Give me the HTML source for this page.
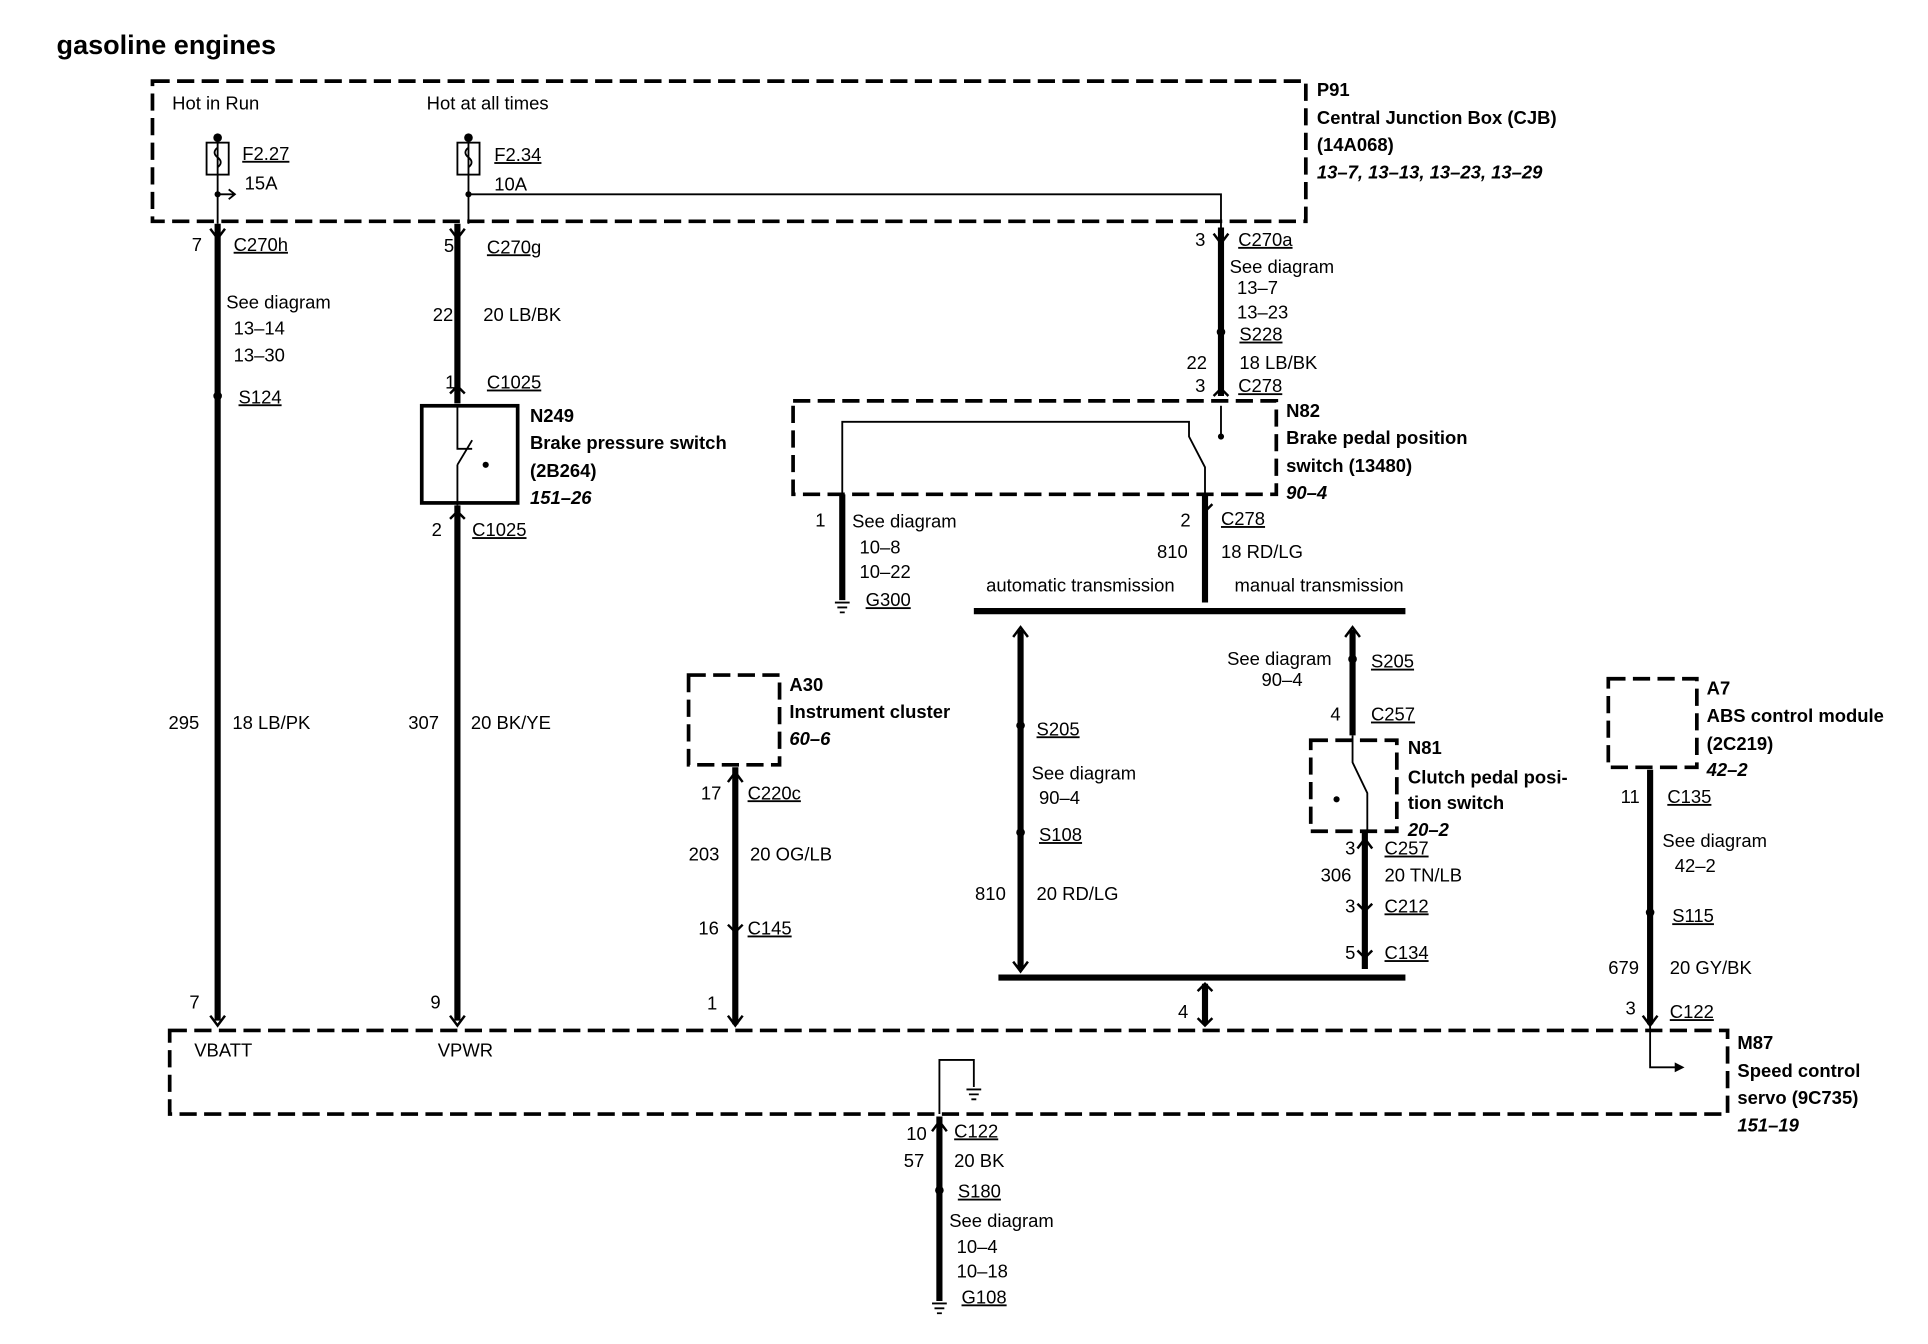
<!DOCTYPE html>
<html><head><meta charset="utf-8"><style>
html,body{margin:0;padding:0;background:#fff;}
svg{display:block;}
text{font-family:"Liberation Sans",sans-serif;font-size:15px;fill:#000;}
.b{font-weight:bold;}
.i{font-weight:bold;font-style:italic;}
.u{text-decoration:underline;}
</style></head><body>
<svg width="1928" height="1344" viewBox="0 0 1568 1093" preserveAspectRatio="none" xmlns="http://www.w3.org/2000/svg">
<g fill="none" stroke="#000">
<!-- dashed boxes -->
<g stroke-width="3" stroke-dasharray="14,6">
<rect x="124" y="66" width="938" height="114"/>
<rect x="645" y="326" width="393" height="76"/>
<rect x="560" y="549" width="74" height="73"/>
<rect x="1308" y="552" width="72" height="72"/>
<rect x="1066" y="602" width="70" height="74"/>
<rect x="138" y="838" width="1267" height="68"/>
</g>
<rect x="343" y="330" width="78" height="79" stroke-width="3"/>
<!-- thick wires -->
<g stroke-width="5">
<line x1="177" y1="182" x2="177" y2="830"/>
<line x1="372" y1="182" x2="372" y2="328"/>
<line x1="372" y1="411" x2="372" y2="830"/>
<line x1="993" y1="185" x2="993" y2="322"/>
<line x1="685" y1="402" x2="685" y2="488"/>
<line x1="980" y1="402" x2="980" y2="490"/>
<line x1="792" y1="497" x2="1143" y2="497"/>
<line x1="830" y1="512" x2="830" y2="788"/>
<line x1="1100" y1="512" x2="1100" y2="598"/>
<line x1="1110" y1="676" x2="1110" y2="788"/>
<line x1="812" y1="795" x2="1143" y2="795"/>
<line x1="980" y1="800" x2="980" y2="833"/>
<line x1="598" y1="624" x2="598" y2="833"/>
<line x1="1342" y1="626" x2="1342" y2="833"/>
<line x1="764" y1="908" x2="764" y2="1058"/>
</g>
<!-- thin wires -->
<g stroke-width="1.5">
<line x1="177" y1="112" x2="177" y2="182"/>
<line x1="381" y1="112" x2="381" y2="182"/>
<rect x="168" y="116" width="18" height="26"/>
<rect x="372" y="116" width="18" height="26"/>
<path d="M177 120 q-5 4 0 8 q5 4 0 8 M381 120 q-5 4 0 8 q5 4 0 8"/>
<path d="M177 158 H190 M186 154 L191 158 L186 162"/>
<path d="M381 158 H993 V185"/>
<path d="M993 330 V355"/>
<path d="M685 402 V343 H967 V355 L980 380 V402"/>
<path d="M372 330 V365 L384 365 M372 378 L384 358 M372 378 V411"/>
<path d="M1100 598 V620 L1112 645 V676"/>
<path d="M1342 833 V868 H1368"/>
<path d="M764 906 V862 H792 V884"/>
</g>
<g fill="#000" stroke="none">
<circle cx="177" cy="112" r="3.5"/><circle cx="381" cy="112" r="3.5"/>
<circle cx="177" cy="158" r="2.5"/><circle cx="381" cy="158" r="2.5"/>
<circle cx="177" cy="322" r="3.5"/><circle cx="993" cy="270" r="3.5"/>
<circle cx="395" cy="378" r="2.5"/><circle cx="993" cy="355" r="2.5"/>
<circle cx="1087" cy="650" r="2.5"/>
<circle cx="830" cy="590" r="3.5"/><circle cx="830" cy="677" r="3.5"/>
<circle cx="1100" cy="536" r="3.5"/><circle cx="1342" cy="742" r="3.5"/>
<circle cx="764" cy="968" r="3.5"/>
<path d="M1362 864 L1370 868 L1362 872Z"/>
</g>
<!-- grounds -->
<g stroke-width="1.5">
<path d="M679 490 H691 M681 494 H689 M683 498 H687"/>
<path d="M758 1060 H770 M760 1064 H768 M762 1068 H766"/>
<path d="M786 886 H798 M788 890 H796 M790 894 H794"/>
</g>
<!-- connector chevrons -->
<g stroke-width="2">
<path d="M171 186 L177 194 L183 186 M171 826 L177 834 L183 826 M366 186 L372 194 L378 186 M366 320 L372 314 L378 320 M366 422 L372 416 L378 422 M366 826 L372 834 L378 826 M987 190 L993 198 L999 190 M987 322 L993 316 L999 322 M979 410 L980 416 L986 410 M824 518 L830 510 L836 518 M824 782 L830 790 L836 782 M1094 518 L1100 510 L1106 518 M974 806 L980 800 L986 806 M974 828 L980 834 L986 828 M592 636 L598 628 L604 636 M592 752 L598 758 L604 752 M592 826 L598 834 L604 826 M1104 690 L1110 682 L1116 690 M1104 735 L1110 741 L1116 735 M1104 773 L1110 779 L1116 773 M1336 826 L1342 834 L1348 826 M758 920 L764 912 L770 920"/>
</g>
</g>
<text x="46" y="44" class="b" style="font-size:22px">gasoline engines</text>
<text x="140" y="89">Hot in Run</text>
<text x="347" y="89">Hot at all times</text>
<text x="197" y="130" class="u">F2.27</text><text x="199" y="154">15A</text>
<text x="402" y="131" class="u">F2.34</text><text x="402" y="155">10A</text>
<text x="1071" y="78" class="b">P91</text>
<text x="1071" y="101" class="b">Central Junction Box (CJB)</text>
<text x="1071" y="123" class="b">(14A068)</text>
<text x="1071" y="145" class="i">13–7, 13–13, 13–23, 13–29</text>
<text x="156" y="204">7</text><text x="190" y="204" class="u">C270h</text>
<text x="184" y="251">See diagram</text><text x="190" y="272">13–14</text><text x="190" y="294">13–30</text>
<text x="194" y="328" class="u">S124</text>
<text x="137" y="593">295</text><text x="189" y="593">18 LB/PK</text>
<text x="154" y="820">7</text><text x="158" y="859">VBATT</text>
<text x="361" y="205">5</text><text x="396" y="206" class="u">C270g</text>
<text x="352" y="261">22</text><text x="393" y="261">20 LB/BK</text>
<text x="362" y="316">1</text><text x="396" y="316" class="u">C1025</text>
<text x="431" y="343" class="b">N249</text>
<text x="431" y="365" class="b">Brake pressure switch</text>
<text x="431" y="388" class="b">(2B264)</text>
<text x="431" y="410" class="i">151–26</text>
<text x="351" y="436">2</text><text x="384" y="436" class="u">C1025</text>
<text x="332" y="593">307</text><text x="383" y="593">20 BK/YE</text>
<text x="350" y="820">9</text><text x="356" y="859">VPWR</text>
<text x="972" y="200">3</text><text x="1007" y="200" class="u">C270a</text>
<text x="1000" y="222">See diagram</text><text x="1006" y="239">13–7</text><text x="1006" y="259">13–23</text>
<text x="1008" y="277" class="u">S228</text>
<text x="965" y="300">22</text><text x="1008" y="300">18 LB/BK</text>
<text x="972" y="319">3</text><text x="1007" y="319" class="u">C278</text>
<text x="1046" y="339" class="b">N82</text>
<text x="1046" y="361" class="b">Brake pedal position</text>
<text x="1046" y="384" class="b">switch (13480)</text>
<text x="1046" y="406" class="i">90–4</text>
<text x="663" y="428">1</text><text x="693" y="429">See diagram</text>
<text x="699" y="450">10–8</text><text x="699" y="470">10–22</text>
<text x="704" y="493" class="u">G300</text>
<text x="960" y="428">2</text><text x="993" y="427" class="u">C278</text>
<text x="941" y="454">810</text><text x="993" y="454">18 RD/LG</text>
<text x="802" y="481">automatic transmission</text>
<text x="1004" y="481">manual transmission</text>
<text x="843" y="598" class="u">S205</text>
<text x="839" y="634">See diagram</text><text x="845" y="654">90–4</text>
<text x="845" y="684" class="u">S108</text>
<text x="793" y="732">810</text><text x="843" y="732">20 RD/LG</text>
<text x="998" y="541">See diagram</text><text x="1026" y="558">90–4</text>
<text x="1115" y="543" class="u">S205</text>
<text x="1082" y="586">4</text><text x="1115" y="586" class="u">C257</text>
<text x="1145" y="613" class="b">N81</text>
<text x="1145" y="637" class="b">Clutch pedal posi-</text>
<text x="1145" y="658" class="b">tion switch</text>
<text x="1145" y="680" class="i">20–2</text>
<text x="1094" y="695">3</text><text x="1126" y="695" class="u">C257</text>
<text x="1074" y="717">306</text><text x="1126" y="717">20 TN/LB</text>
<text x="1094" y="742">3</text><text x="1126" y="742" class="u">C212</text>
<text x="1094" y="780">5</text><text x="1126" y="780" class="u">C134</text>
<text x="958" y="828">4</text>
<text x="642" y="562" class="b">A30</text>
<text x="642" y="584" class="b">Instrument cluster</text>
<text x="642" y="606" class="i">60–6</text>
<text x="570" y="650">17</text><text x="608" y="650" class="u">C220c</text>
<text x="560" y="700">203</text><text x="610" y="700">20 OG/LB</text>
<text x="568" y="760">16</text><text x="608" y="760" class="u">C145</text>
<text x="575" y="821">1</text>
<text x="1388" y="565" class="b">A7</text>
<text x="1388" y="587" class="b">ABS control module</text>
<text x="1388" y="610" class="b">(2C219)</text>
<text x="1388" y="631" class="i">42–2</text>
<text x="1318" y="653">11</text><text x="1356" y="653" class="u">C135</text>
<text x="1352" y="689">See diagram</text><text x="1362" y="709">42–2</text>
<text x="1360" y="750" class="u">S115</text>
<text x="1308" y="792">679</text><text x="1358" y="792">20 GY/BK</text>
<text x="1322" y="825">3</text><text x="1358" y="828" class="u">C122</text>
<text x="1413" y="853" class="b">M87</text>
<text x="1413" y="876" class="b">Speed control</text>
<text x="1413" y="898" class="b">servo (9C735)</text>
<text x="1413" y="920" class="i">151–19</text>
<text x="737" y="927">10</text><text x="776" y="925" class="u">C122</text>
<text x="735" y="949">57</text><text x="776" y="949">20 BK</text>
<text x="779" y="974" class="u">S180</text>
<text x="772" y="998">See diagram</text><text x="778" y="1019">10–4</text><text x="778" y="1039">10–18</text>
<text x="782" y="1060" class="u">G108</text>
</svg>
</body></html>
